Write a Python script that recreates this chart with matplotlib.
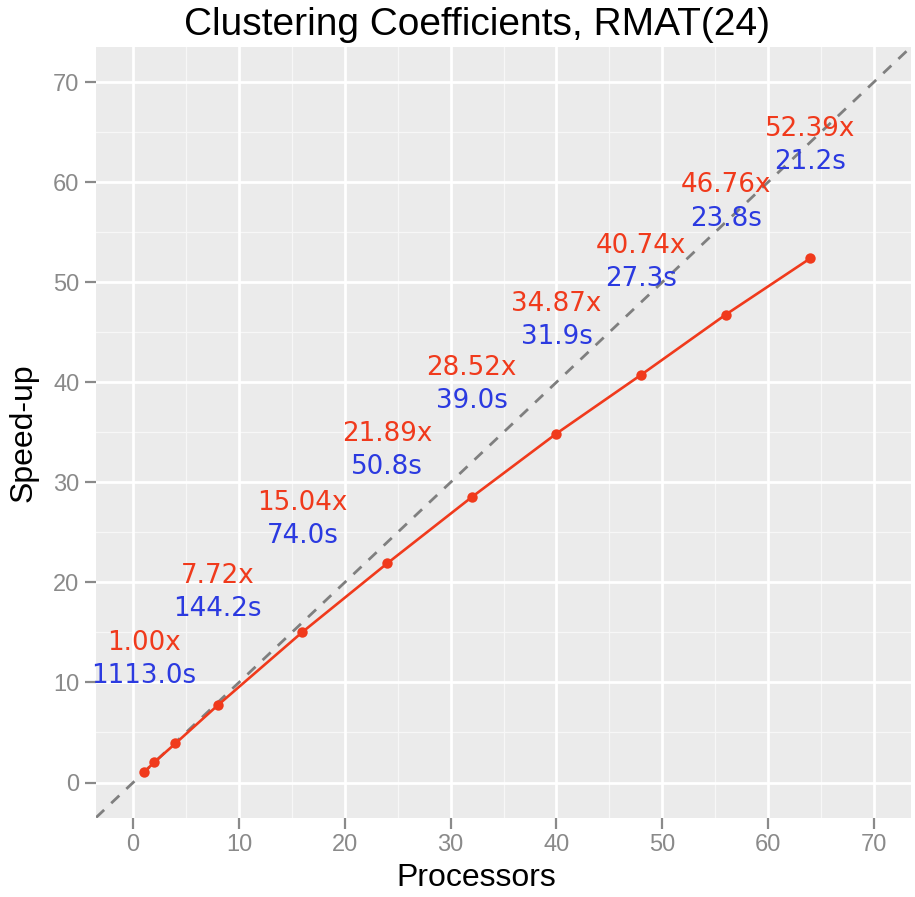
import matplotlib
matplotlib.use("Agg")
import matplotlib.pyplot as plt
import numpy as np

# Processor counts and measured speed-up
processors = [1, 2, 4, 8, 16, 24, 32, 40, 48, 56, 64]
speedup = [1.00, 2.03, 3.90, 7.72, 15.04, 21.89, 28.52, 34.87, 40.74, 46.76, 52.39]

# Annotated runs: processors, speed-up and wall time in seconds
label_procs = [1, 8, 16, 24, 32, 40, 48, 56, 64]
label_speedup = [1.00, 7.72, 15.04, 21.89, 28.52, 34.87, 40.74, 46.76, 52.39]
label_times = [1113.0, 144.2, 74.0, 50.8, 39.0, 31.9, 27.3, 23.8, 21.2]

ticks = [0, 10, 20, 30, 40, 50, 60, 70]
minor_ticks = [-5, 5, 15, 25, 35, 45, 55, 65, 75]

plt.rcParams['font.family'] = ['Liberation Sans', 'DejaVu Sans']

RED = '#F03A1C'
BLUE = '#2B3AE0'
TICK_GREY = '#8A8A8A'

fig = plt.figure(figsize=(9.15, 8.97), dpi=100)
ax = fig.add_axes([0.105, 0.0886, 0.8906, 0.859])
ax.set_facecolor('#EBEBEB')

lo, hi = -3.5, 73.5
ax.set_xlim(lo, hi)
ax.set_ylim(lo, hi)

# grid
for t in minor_ticks:
    ax.axvline(t, color='#F7F7F7', lw=0.9, zorder=0)
    ax.axhline(t, color='#F7F7F7', lw=0.9, zorder=0)
for t in ticks:
    ax.axvline(t, color='white', lw=2.0, zorder=0)
    ax.axhline(t, color='white', lw=2.0, zorder=0)

# ideal linear speed-up
ax.plot([lo, hi], [lo, hi], color='#7F7F7F', lw=2.0, ls=(0, (4, 3.5)), zorder=1)

# measured speed-up
ax.plot(processors, speedup, color=RED, lw=1.9, marker='o', ms=7.5,
        markeredgewidth=0, zorder=3)

for p, s, t in zip(label_procs, label_speedup, label_times):
    ax.text(p, s + 12.9, f"{s:.2f}x", color=RED, fontsize=18.8,
            family='DejaVu Sans', ha='center', va='center', zorder=4)
    ax.text(p, s + 9.6, f"{t:.1f}s", color=BLUE, fontsize=18.8,
            family='DejaVu Sans', ha='center', va='center', zorder=4)

for side in ax.spines.values():
    side.set_visible(False)

ax.set_xticks(ticks)
ax.set_yticks(ticks)
ax.tick_params(axis='both', colors=TICK_GREY, labelsize=17, length=8,
               width=1.6, pad=4)
for lbl in ax.get_xticklabels() + ax.get_yticklabels():
    lbl.set_color(TICK_GREY)

fig.text(0.521, 0.0045, "Processors", fontsize=23, ha='center', va='bottom')
fig.text(0.009, 0.518, "Speed-up", fontsize=23, ha='left', va='center',
         rotation=90)
fig.text(0.521, 0.952, "Clustering Coefficients, RMAT(24)", fontsize=28,
         ha='center', va='bottom')

fig.savefig("out.png", dpi=100)
